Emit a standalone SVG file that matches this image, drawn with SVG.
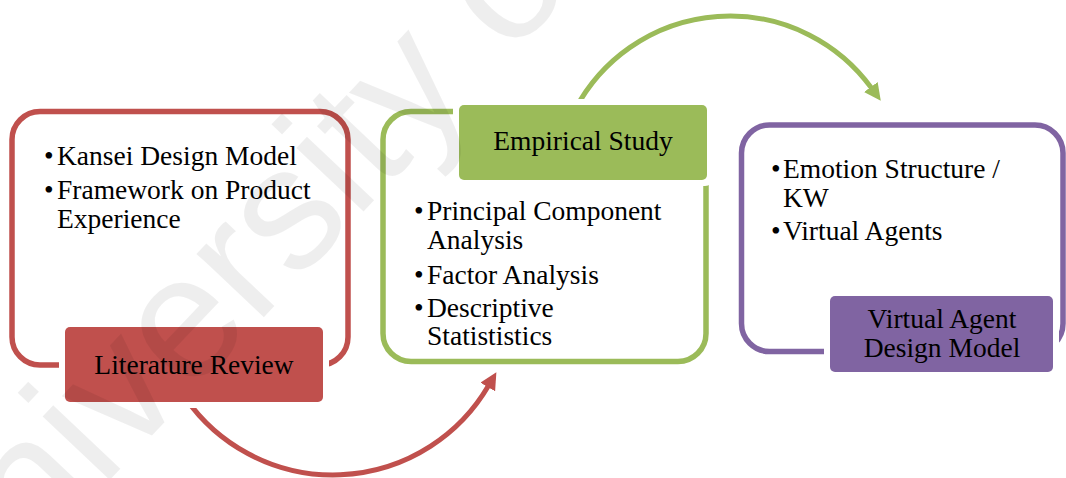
<svg xmlns="http://www.w3.org/2000/svg" width="1066" height="478" viewBox="0 0 1066 478">
  <style>
    .t { font-family: "Liberation Serif", "Times New Roman", Times, serif; font-size: 27.5px; fill: #000; }
    .mid { text-anchor: middle; }
    .outline { fill: none; stroke-width: 5.5; }
    .halo { fill: #fff; }
    .wm { font-family: "Liberation Sans", Arial, sans-serif; font-size: 175px; fill: #000; fill-opacity: 0.065; }
  </style>
  <defs>
    <marker id="arrRed" markerUnits="userSpaceOnUse" markerWidth="17" markerHeight="17" viewBox="0 0 16 16" refX="1" refY="8" orient="auto">
      <path d="M0,0 L16,8 L0,16 z" fill="#C0504D"/>
    </marker>
    <marker id="arrGreen" markerUnits="userSpaceOnUse" markerWidth="17" markerHeight="17" viewBox="0 0 16 16" refX="1" refY="8" orient="auto">
      <path d="M0,0 L16,8 L0,16 z" fill="#9BBB59"/>
    </marker>
  </defs>
  <rect width="1066" height="478" fill="#fff"/>

  <g id="connectors">
    <path d="M 185.6 398.2 A 180 180 0 0 0 488.3 386.1" fill="none" stroke="#C0504D" stroke-width="5" marker-end="url(#arrRed)"/>
    <path d="M 575.5 108.8 A 175 175 0 0 1 871.4 87.9" fill="none" stroke="#9BBB59" stroke-width="5" marker-end="url(#arrGreen)"/>
  </g>

  <g id="literature-review">
    <rect class="outline" x="12" y="111.5" width="336" height="253.5" rx="28" stroke="#C0504D"/>
    <rect class="halo" x="59" y="321" width="270" height="87" rx="8"/>
    <rect x="65" y="327" width="258" height="75" rx="5" fill="#C0504D"/>
    <text class="t" x="44" y="165">•</text><text class="t" x="57" y="165">Kansei Design Model</text>
    <text class="t" x="44" y="199">•</text><text class="t" x="57" y="199">Framework on Product</text>
    <text class="t" x="57" y="228">Experience</text>
    <text class="t mid" x="194" y="374">Literature Review</text>
  </g>

  <g id="empirical-study">
    <rect class="outline" x="383" y="111.5" width="323" height="250" rx="28" stroke="#9BBB59"/>
    <rect class="halo" x="453" y="99" width="260" height="87" rx="8"/>
    <rect x="459" y="105" width="248" height="75" rx="5" fill="#9BBB59"/>
    <text class="t mid" x="583" y="150">Empirical Study</text>
    <text class="t" x="414" y="220">•</text><text class="t" x="427" y="220">Principal Component</text>
    <text class="t" x="427" y="249">Analysis</text>
    <text class="t" x="414" y="284">•</text><text class="t" x="427" y="284">Factor Analysis</text>
    <text class="t" x="414" y="317">•</text><text class="t" x="427" y="317">Descriptive</text>
    <text class="t" x="427" y="345">Statististics</text>
  </g>

  <g id="virtual-agent-design-model">
    <rect class="outline" x="741.5" y="125" width="321.5" height="226.5" rx="28" stroke="#8064A2"/>
    <rect class="halo" x="824" y="290" width="235" height="88" rx="8"/>
    <rect x="830" y="296" width="223" height="76" rx="5" fill="#8064A2"/>
    <text class="t" x="771" y="178">•</text><text class="t" x="783" y="178">Emotion Structure /</text>
    <text class="t" x="783" y="207">KW</text>
    <text class="t" x="771" y="240">•</text><text class="t" x="783" y="240">Virtual Agents</text>
    <text class="t mid" x="942" y="328">Virtual Agent</text>
    <text class="t mid" x="942" y="357">Design Model</text>
  </g>

  <g id="watermark">
    <text class="wm" transform="translate(-52,651) rotate(-46.6)">University of Malaya</text>
  </g>
</svg>
